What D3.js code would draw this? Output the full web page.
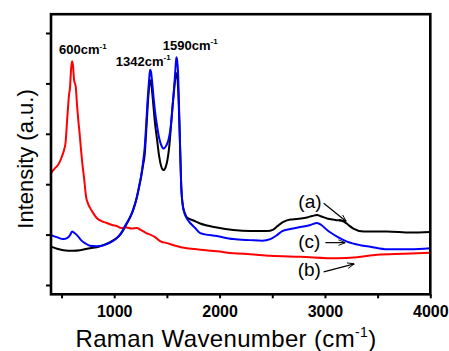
<!DOCTYPE html>
<html>
<head>
<meta charset="utf-8">
<script src="https://cdn.jsdelivr.net/npm/d3@7/dist/d3.min.js"></script>
<style>
  html, body { margin: 0; padding: 0; background: #fff; }
  svg { display: block; font-family: "Liberation Sans", Arial, sans-serif; }
</style>
</head>
<body>
<svg id="chart" width="449" height="351"></svg>
<script>
// Raman spectra, intensity in arbitrary units: [wavenumber (cm-1), intensity]
const spectrumA = [
  [400,0.76],[457,0.72],[517,0.69],[612,0.68],[676,0.69],[771,0.73],[834,0.75],[897,0.79],
  [961,0.85],[1024,0.93],[1065,1.02],[1113,1.19],[1151,1.34],[1179,1.48],[1213,1.72],[1236,1.94],
  [1255,2.14],[1274,2.38],[1289,2.58],[1303,3.02],[1317,3.53],[1328,3.85],[1336,4.01],[1342,4.06],
  [1349,4.03],[1360,3.83],[1374,3.51],[1388,3.19],[1407,2.88],[1426,2.56],[1445,2.36],[1467,2.28],
  [1488,2.34],[1505,2.48],[1521,2.72],[1536,3.08],[1550,3.47],[1564,3.77],[1578,4.07],[1590,4.20],
  [1600,4.11],[1609,3.77],[1616,3.37],[1626,2.68],[1635,2.02],[1650,1.59],[1669,1.43],[1690,1.34],
  [1752,1.28],[1816,1.22],[1975,1.14],[2130,1.09],[2291,1.07],[2450,1.07],[2510,1.10],[2545,1.16],
  [2605,1.25],[2671,1.30],[2735,1.31],[2830,1.34],[2880,1.37],[2925,1.39],[2966,1.36],[3020,1.32],
  [3099,1.29],[3178,1.26],[3222,1.19],[3270,1.12],[3368,1.06],[3590,1.06],[3812,1.04],[4000,1.05]
];

const spectrumB = [
  [400,2.22],[438,2.32],[467,2.38],[502,2.54],[524,2.68],[538,2.82],[555,3.33],[571,3.77],
  [581,3.93],[590,4.27],[600,4.44],[609,4.35],[619,4.07],[635,3.93],[647,3.57],[659,3.27],
  [671,3.02],[685,2.68],[697,2.42],[714,2.12],[733,1.75],[752,1.61],[771,1.53],[799,1.43],
  [834,1.33],[875,1.27],[929,1.23],[980,1.19],[1024,1.17],[1065,1.13],[1119,1.14],[1160,1.12],
  [1214,1.13],[1255,1.09],[1303,1.03],[1341,1.00],[1388,0.95],[1436,0.87],[1500,0.83],[1580,0.78],
  [1690,0.73],[1816,0.70],[1975,0.67],[2130,0.63],[2291,0.61],[2481,0.58],[2766,0.56],[3115,0.53],
  [3305,0.55],[3495,0.60],[3748,0.62],[4000,0.64]
];

const spectrumC = [
  [400,0.99],[454,0.95],[517,0.91],[552,0.93],[581,0.99],[600,1.06],[623,1.03],[659,0.96],
  [685,0.89],[723,0.83],[771,0.78],[834,0.77],[882,0.78],[929,0.81],[970,0.85],[1024,0.93],
  [1065,1.03],[1113,1.21],[1151,1.35],[1179,1.49],[1213,1.73],[1236,1.96],[1255,2.16],[1274,2.44],
  [1289,2.72],[1303,3.17],[1317,3.67],[1328,3.99],[1336,4.19],[1342,4.27],[1349,4.23],[1360,4.03],
  [1374,3.71],[1388,3.43],[1407,3.15],[1426,2.92],[1445,2.78],[1469,2.71],[1493,2.76],[1515,2.88],
  [1531,3.06],[1545,3.31],[1559,3.67],[1574,4.07],[1583,4.35],[1590,4.52],[1597,4.46],[1607,4.17],
  [1616,3.47],[1626,2.68],[1635,2.02],[1650,1.59],[1669,1.41],[1692,1.31],[1721,1.23],[1768,1.13],
  [1816,1.03],[1975,0.97],[2130,0.91],[2291,0.89],[2405,0.88],[2481,0.91],[2545,0.99],[2595,1.07],
  [2671,1.11],[2766,1.15],[2861,1.19],[2925,1.23],[2966,1.19],[3020,1.09],[3115,0.96],[3210,0.86],
  [3336,0.79],[3431,0.76],[3590,0.71],[3812,0.71],[4000,0.73]
];

const seriesNames = ["(a)", "(b)", "(c)"];
const seriesColors = ["#000000", "#ff0000", "#0000ff"];

const xMajorTicks = [1000, 2000, 3000, 4000];
const xMinorTicks = [500, 1500, 2500, 3500];
const yTicks = [0, 1, 2, 3, 4, 5];

// peak labels: [text, wavenumber at label start, intensity at baseline]
const peakLabels = [
  ["600", 476, 4.58],
  ["1342", 1015, 4.35],
  ["1590", 1461, 4.67]
];

// series call-outs: label position and arrow from/to, in data units
const callouts = [
  { name: "(a)", lx: 2858, ly: 1.53, from: [2988, 1.62], to: [3203, 1.26] },
  { name: "(c)", lx: 2852, ly: 0.73, from: [3004, 0.84], to: [3194, 0.84] },
  { name: "(b)", lx: 2852, ly: 0.17, from: [2988, 0.26], to: [3279, 0.42] }
];

const svg = d3.select("#chart");
const plotLeft = 51, plotRight = 430.3, plotTop = 14.2, plotBottom = 294.3;

const x = d3.scaleLinear().domain([400, 4000]).range([plotLeft, plotRight]);
const y = d3.scaleLinear().domain([-0.185, 5.373]).range([plotBottom, plotTop]);

svg.append("defs").append("marker")
  .attr("id", "arrowhead")
  .attr("viewBox", "0 0 10 10")
  .attr("refX", 10).attr("refY", 5)
  .attr("markerWidth", 7).attr("markerHeight", 7)
  .attr("markerUnits", "userSpaceOnUse")
  .attr("orient", "auto")
  .append("path")
  .attr("d", "M0,1 L10,5 L0,9")
  .attr("fill", "none")
  .attr("stroke", "#000")
  .attr("stroke-width", 1.3);

const line = d3.line()
  .x(d => x(d[0]))
  .y(d => y(d[1]))
  .curve(d3.curveMonotoneX);

const plot = svg.append("g");
[[spectrumA, 0], [spectrumB, 1], [spectrumC, 2]].forEach(([data, i]) => {
  plot.append("path")
    .datum(data)
    .attr("fill", "none")
    .attr("stroke", seriesColors[i])
    .attr("stroke-width", 2)
    .attr("stroke-linejoin", "round")
    .attr("d", line);
});

// axes
const xAxis = svg.append("g").attr("transform", `translate(0,${plotBottom})`)
  .call(d3.axisBottom(x).tickValues(xMajorTicks).tickSize(4).tickPadding(7.5).tickFormat(d3.format("d")));
svg.append("g").attr("transform", `translate(0,${plotBottom})`)
  .call(d3.axisBottom(x).tickValues(xMinorTicks).tickSize(4).tickFormat(""));
svg.append("g").attr("transform", `translate(${plotLeft},0)`)
  .call(d3.axisLeft(y).tickValues(yTicks).tickSize(5).tickFormat(""));

svg.selectAll(".domain").remove();
svg.selectAll(".tick line").attr("stroke", "#000").attr("stroke-width", 2);
xAxis.selectAll(".tick text")
  .attr("font-size", 16).attr("font-weight", "bold").attr("fill", "#000")
  .attr("font-family", "Liberation Sans, Arial, sans-serif");

// frame
svg.append("rect")
  .attr("x", plotLeft).attr("y", plotTop)
  .attr("width", plotRight - plotLeft).attr("height", plotBottom - plotTop)
  .attr("fill", "none").attr("stroke", "#000").attr("stroke-width", 2.6);

// axis titles
const xt = svg.append("text")
  .attr("x", 226).attr("y", 346.5)
  .attr("text-anchor", "middle").attr("font-size", 24)
  .attr("letter-spacing", 0.35).attr("fill", "#000");
xt.append("tspan").text("Raman Wavenumber (cm");
xt.append("tspan").attr("font-size", 14).attr("dy", -9.5).text("-1");
xt.append("tspan").attr("dy", 9.5).text(")");

svg.append("text")
  .attr("transform", `translate(33,159) rotate(-90)`)
  .attr("text-anchor", "middle").attr("font-size", 22).attr("fill", "#000")
  .text("Intensity (a.u.)");

// peak labels
peakLabels.forEach(([val, wx, iy]) => {
  const t = svg.append("text")
    .attr("x", x(wx)).attr("y", y(iy))
    .attr("font-size", 13).attr("font-weight", "bold").attr("fill", "#000");
  t.append("tspan").text(val + "cm");
  t.append("tspan").attr("font-size", 8).attr("dy", -5.5).text("-1");
});

// call-outs
callouts.forEach(c => {
  svg.append("text")
    .attr("x", x(c.lx)).attr("y", y(c.ly))
    .attr("text-anchor", "middle").attr("font-size", 19).attr("fill", "#000")
    .text(c.name);
  svg.append("line")
    .attr("x1", x(c.from[0])).attr("y1", y(c.from[1]))
    .attr("x2", x(c.to[0])).attr("y2", y(c.to[1]))
    .attr("stroke", "#000").attr("stroke-width", 1.2)
    .attr("marker-end", "url(#arrowhead)");
});
</script>
</body>
</html>
